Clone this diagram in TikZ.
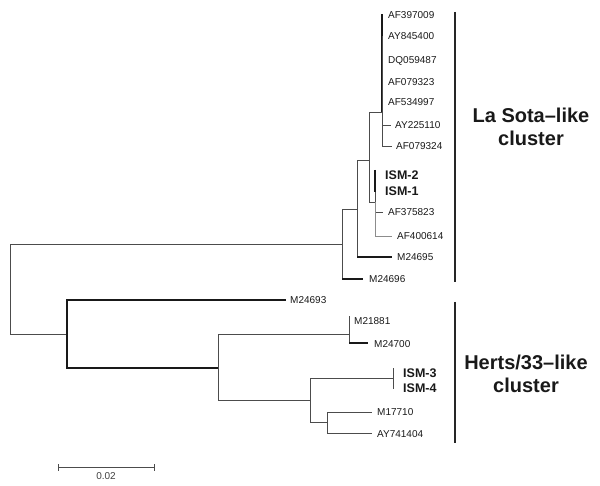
\documentclass[tikz,border=0pt]{standalone}
\usepackage{fontspec}
\setmainfont{Liberation Sans}
\begin{document}
\begin{tikzpicture}[x=1pt,y=-1pt,
  br/.style={draw=black!70, line width=0.8pt},
  thk/.style={draw=black!90, line width=1.3pt},
  lgt/.style={draw=black!45, line width=0.9pt},
  lf/.style={anchor=west, inner sep=0pt, text=black!90, font=\fontsize{10}{12}\selectfont},
  ism/.style={anchor=west, inner sep=0pt, text=black!90, font=\fontsize{12.5}{14}\selectfont\bfseries},
  clu/.style={align=center, inner sep=0pt, text=black!90, font=\fontsize{20}{23}\selectfont\bfseries},
  bar/.style={line width=2.5pt, draw=black!85}]
\useasboundingbox (0,0) rectangle (600,486);

% internal nodes
\coordinate (r) at (10,289);
\coordinate (A) at (342,244);
\coordinate (B) at (357,209);
\coordinate (C) at (369,160);
\coordinate (D) at (382,112);
\coordinate (E) at (375,202);
\coordinate (G) at (67,334);
\coordinate (H) at (218,368);
\coordinate (K) at (349,334);
\coordinate (I) at (310,400);
\coordinate (L) at (393,378);
\coordinate (J) at (327,422);

% leaf tips
\coordinate (t1) at (382,14);
\coordinate (t2) at (382,36);
\coordinate (t3) at (382,61);
\coordinate (t4) at (382,82);
\coordinate (t5) at (382,102);
\coordinate (t6) at (391,125);
\coordinate (t7) at (392,146);
\coordinate (s2) at (375,170);
\coordinate (s1) at (375,192);
\coordinate (t8) at (383,212);
\coordinate (t9) at (392,236);
\coordinate (t10) at (392,257);
\coordinate (t11) at (363,279);
\coordinate (h1) at (286,300);
\coordinate (h2) at (349,316);
\coordinate (h3) at (368,343);
\coordinate (s3) at (393,368);
\coordinate (s4) at (393,389);
\coordinate (h4) at (372,412);
\coordinate (h5) at (372,433);

% branches
\draw[br] (r) |- (A);
\draw[br] (r) |- (G);
\draw[br] (A) |- (B);
\draw[br] (A) |- (t11);
\draw[thk] (A |- t11) -- (t11);
\draw[br] (B) |- (C);
\draw[br] (B) |- (t10);
\draw[thk] (B |- t10) -- (t10);
\draw[br] (C) |- (D);
\draw[br] (C) |- (E);
\draw[thk] (D) |- (t1);
\draw[br] (D) |- (t2);
\draw[br] (D) |- (t3);
\draw[br] (D) |- (t4);
\draw[br] (D) |- (t5);
\draw[br] (D) |- (t6);
\draw[br] (D) |- (t7);
\draw[br] (E) |- (s2);
\draw[br] (E) |- (s1);
\draw[thk] (s2) -- (s1);
\draw[br] (E) |- (t8);
\draw[lgt] (E) |- (t9);
\draw[thk] (G) |- (h1);
\draw[thk] (G) |- (H);
\draw[br] (H) |- (K);
\draw[br] (H) |- (I);
\draw[br] (K) |- (h2);
\draw[br] (K) |- (h3);
\draw[thk] (K |- h3) -- (h3);
\draw[br] (I) |- (L);
\draw[br] (I) |- (J);
\draw[br] (L) |- (s3);
\draw[br] (L) |- (s4);
\draw[br] (J) |- (h4);
\draw[br] (J) |- (h5);

% leaf labels
\node[lf] (l1) at (388,15) {AF397009};
\node[lf] (l2) at (388,36) {AY845400};
\node[lf] (l3) at (388,61) {DQ059487};
\node[lf] (l4) at (388,82) {AF079323};
\node[lf] (l5) at (388,102) {AF534997};
\node[lf] (l6) at (395,125) {AY225110};
\node[lf] (l7) at (396,146) {AF079324};
\node[ism] (i2) at (385,175) {ISM-2};
\node[ism] (i1) at (385,191) {ISM-1};
\node[lf] (l8) at (388,212) {AF375823};
\node[lf] (l9) at (397,236) {AF400614};
\node[lf] (l10) at (397,257) {M24695};
\node[lf] (l11) at (369,279) {M24696};
\node[lf] (m1) at (290,300) {M24693};
\node[lf] (m2) at (354,321) {M21881};
\node[lf] (m3) at (374,344) {M24700};
\node[ism] (i3) at (403,373) {ISM-3};
\node[ism] (i4) at (403,388) {ISM-4};
\node[lf] (m4) at (377,412) {M17710};
\node[lf] (m5) at (377,434) {AY741404};

% cluster bars and labels
\coordinate (b1t) at (455,12);
\coordinate (b1b) at (455,282);
\coordinate (b2t) at (455,302);
\coordinate (b2b) at (455,443);
\draw[bar] (b1t) -- (b1b);
\draw[bar] (b2t) -- (b2b);
\node[clu] (c1) at (531,127) {La Sota–like\\cluster};
\node[clu] (c2) at (526,374) {Herts/33–like\\cluster};

% scale bar
\coordinate (sbL) at (58,467);
\coordinate (sbR) at (154,467);
\draw[br] (sbL) -- (sbR);
\draw[br] ([yshift=-3.5pt]sbL) -- ([yshift=3.5pt]sbL);
\draw[br] ([yshift=-3.5pt]sbR) -- ([yshift=3.5pt]sbR);
\node[lf, anchor=center, text=black!75] (sbt) at (106,476) {0.02};
\end{tikzpicture}
\end{document}
